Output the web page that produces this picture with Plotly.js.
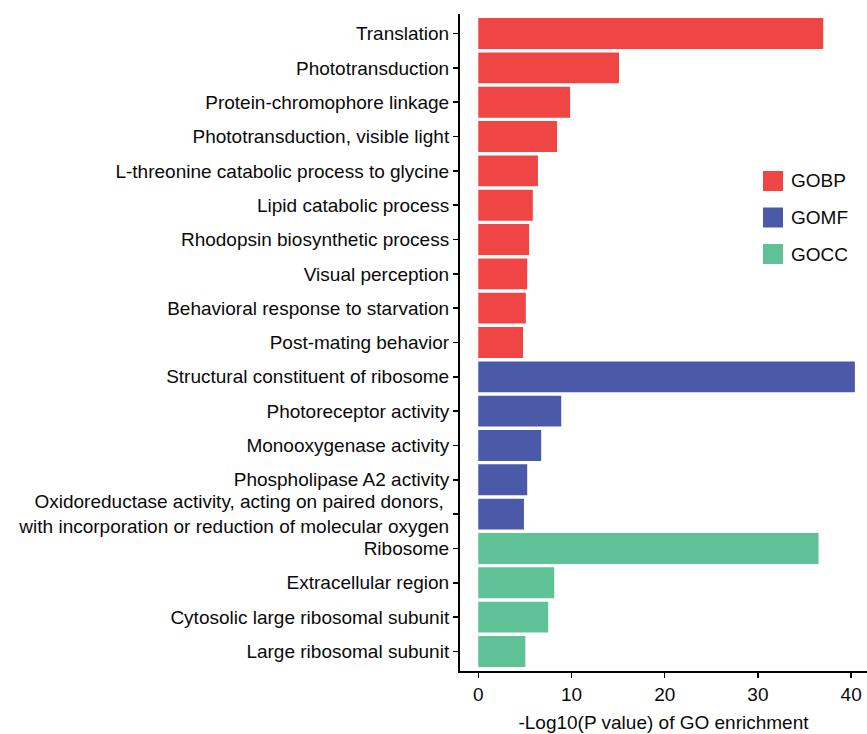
<!DOCTYPE html>
<html>
<head>
<meta charset="utf-8">
<script src="https://cdn.plot.ly/plotly-3.0.1.min.js"></script>
<style>
  html, body { margin: 0; padding: 0; background: #fff; }
  #chart { width: 867px; height: 734px; }
</style>
</head>
<body>
<div id="chart"></div>
<script>
// GO terms, grouped by ontology, top to bottom
const bpTerms = [
  "Translation",
  "Phototransduction",
  "Protein-chromophore linkage",
  "Phototransduction, visible light",
  "L-threonine catabolic process to glycine",
  "Lipid catabolic process",
  "Rhodopsin biosynthetic process",
  "Visual perception",
  "Behavioral response to starvation",
  "Post-mating behavior"
];
const bpValues = [37.0, 15.1, 9.85, 8.45, 6.4, 5.85, 5.45, 5.25, 5.1, 4.8];

const mfTerms = [
  "Structural constituent of ribosome",
  "Photoreceptor activity",
  "Monooxygenase activity",
  "Phospholipase A2 activity",
  "Oxidoreductase activity, acting on paired donors, <br>with incorporation or reduction of molecular oxygen"
];
const mfValues = [40.4, 8.9, 6.75, 5.25, 4.9];

const ccTerms = [
  "Ribosome",
  "Extracellular region",
  "Cytosolic large ribosomal subunit",
  "Large ribosomal subunit"
];
const ccValues = [36.5, 8.15, 7.5, 5.05];

const groupNames = ["GOBP", "GOMF", "GOCC"];
const groupColors = ["#EF4545", "#4A5AA8", "#5FC196"];

const allTerms = bpTerms.concat(mfTerms, ccTerms);
const FONT = "Liberation Sans, Arial, sans-serif";
const TEXT = "#0a0a0a";

const groups = [
  { terms: bpTerms, values: bpValues },
  { terms: mfTerms, values: mfValues },
  { terms: ccTerms, values: ccValues }
];

const traces = groups.map((g, i) => ({
  type: "bar",
  orientation: "h",
  name: groupNames[i],
  y: g.terms,
  x: g.values,
  marker: { color: groupColors[i], line: { width: 0 } },
  showlegend: false,
  hoverinfo: "x+y"
}));

// Plot box in pixels, used to place the legend in paper space
const W = 867, H = 734;
const M = { l: 460, r: 0, t: 14, b: 63 };
const toPaperX = px => (px - M.l) / (W - M.l - M.r);
const toPaperY = py => 1 - (py - M.t) / (H - M.t - M.b);

// Legend drawn as squares with labels
const shapes = [];
const annotations = [];
groupNames.forEach((name, i) => {
  const top = 171 + i * 36.5;
  shapes.push({
    type: "rect", xref: "paper", yref: "paper",
    x0: toPaperX(763), x1: toPaperX(783),
    y0: toPaperY(top + 20), y1: toPaperY(top),
    fillcolor: groupColors[i], line: { width: 0 }
  });
  annotations.push({
    xref: "paper", yref: "paper",
    x: toPaperX(789), y: toPaperY(top + 10),
    xanchor: "left", yanchor: "middle",
    text: name, showarrow: false,
    font: { family: FONT, size: 19, color: TEXT }
  });
});

const layout = {
  width: W,
  height: H,
  margin: M,
  paper_bgcolor: "#fff",
  plot_bgcolor: "#fff",
  bargap: 0.1,
  barmode: "overlay",
  font: { family: FONT, size: 19, color: TEXT },
  xaxis: {
    range: [-1.96, 41.7],
    tickvals: [0, 10, 20, 30, 40],
    showgrid: false,
    zeroline: false,
    showline: true,
    linecolor: "#000",
    linewidth: 2,
    ticks: "outside",
    ticklen: 5,
    tickwidth: 1.5,
    tickcolor: "#000",
    tickfont: { family: FONT, size: 19, color: TEXT },
    title: { text: "-Log10(P value) of GO enrichment", font: { family: FONT, size: 19, color: TEXT }, standoff: 12 }
  },
  yaxis: {
    type: "category",
    categoryorder: "array",
    categoryarray: allTerms,
    autorange: false,
    range: [allTerms.length - 0.43, -0.57],
    showgrid: false,
    zeroline: false,
    showline: true,
    linecolor: "#000",
    linewidth: 2,
    ticks: "outside",
    ticklen: 5,
    tickwidth: 1.5,
    tickcolor: "#000",
    tickfont: { family: FONT, size: 19, color: TEXT }
  },
  shapes: shapes,
  annotations: annotations
};

Plotly.newPlot("chart", traces, layout, { displayModeBar: false, staticPlot: true });
</script>
</body>
</html>
